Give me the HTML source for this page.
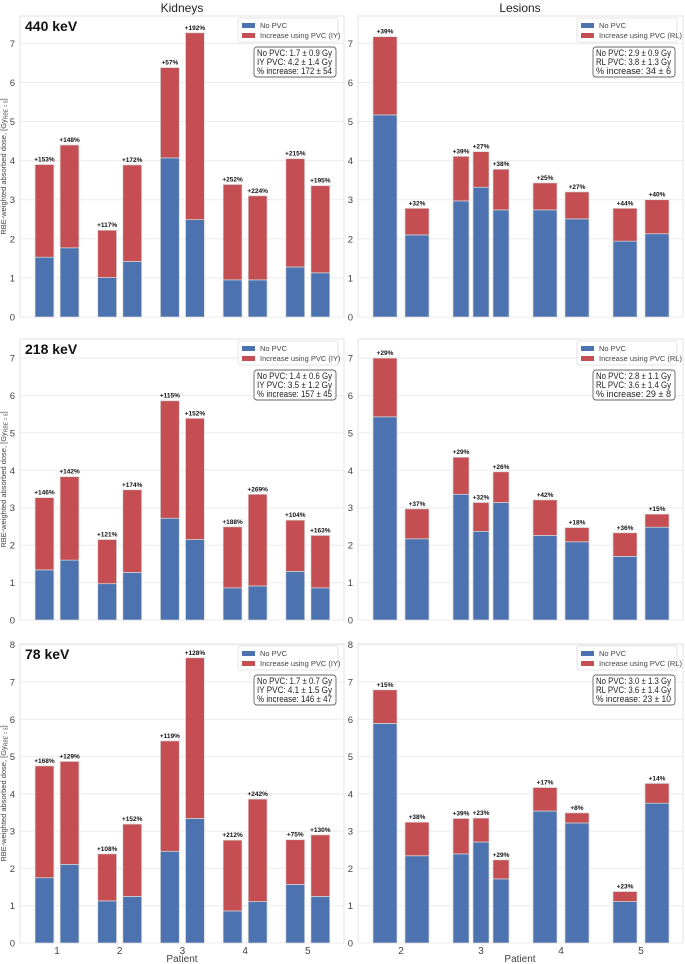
<!DOCTYPE html>
<html><head><meta charset="utf-8"><style>
html,body{margin:0;padding:0;background:#fff;}
svg{display:block;font-family:"Liberation Sans",sans-serif;}
</style></head><body>
<svg id="fig" width="685" height="964" viewBox="0 0 685 964" xmlns="http://www.w3.org/2000/svg">
<text x="182" y="12" font-size="12" text-anchor="middle" fill="#222">Kidneys</text>
<text x="520" y="12" font-size="12" text-anchor="middle" fill="#222">Lesions</text>
<text x="182" y="962" font-size="10" text-anchor="middle" fill="#444">Patient</text>
<text x="520" y="962" font-size="10" text-anchor="middle" fill="#444">Patient</text>
</svg>
<script>
// ---- data ----
const kidneyPatients=[1,1,2,2,3,3,4,4,5,5];
const lesionPatients=[2,2,3,3,3,4,4,5,5];
const kidneyTicks=[1,2,3,4,5];
const lesionTicks=[2,3,4,5];

const k440Base=[1.53,1.77,1.01,1.42,4.07,2.49,0.95,0.95,1.28,1.13];
const k440Total=[3.90,4.40,2.22,3.89,6.38,7.27,3.39,3.10,4.05,3.36];
const k440Pct=["+153%","+148%","+117%","+172%","+57%","+192%","+252%","+224%","+215%","+195%"];
const l440Base=[5.17,2.10,2.97,3.32,2.74,2.74,2.51,1.94,2.13];
const l440Total=[7.17,2.78,4.11,4.23,3.78,3.43,3.20,2.78,3.00];
const l440Pct=["+39%","+32%","+39%","+27%","+38%","+25%","+27%","+44%","+40%"];

const k218Base=[1.34,1.60,0.97,1.27,2.72,2.15,0.86,0.91,1.30,0.86];
const k218Total=[3.27,3.83,2.15,3.48,5.86,5.39,2.49,3.36,2.67,2.26];
const k218Pct=["+146%","+142%","+121%","+174%","+115%","+152%","+188%","+269%","+104%","+163%"];
const l218Base=[5.43,2.17,3.36,2.37,3.14,2.26,2.09,1.70,2.48];
const l218Total=[7.00,2.97,4.35,3.14,3.96,3.21,2.47,2.33,2.83];
const l218Pct=["+29%","+37%","+29%","+32%","+26%","+42%","+18%","+36%","+15%"];

const k78Base=[1.75,2.11,1.13,1.25,2.46,3.34,0.86,1.11,1.57,1.25];
const k78Total=[4.75,4.87,2.39,3.19,5.42,7.65,2.76,3.86,2.77,2.90];
const k78Pct=["+168%","+129%","+108%","+152%","+119%","+128%","+212%","+242%","+75%","+130%"];
const l78Base=[5.89,2.34,2.39,2.71,1.72,3.54,3.22,1.11,3.75];
const l78Total=[6.79,3.24,3.34,3.35,2.23,4.17,3.49,1.38,4.28];
const l78Pct=["+15%","+38%","+39%","+23%","+29%","+17%","+8%","+23%","+14%"];

const yTicks78=[0,1,2,3,4,5,6,7,8];
const yTicksStd=[0,1,2,3,4,5,6,7];

const svg=document.getElementById('fig');
const NS='http://www.w3.org/2000/svg';
function mk(tag,attrs,parent){const e=document.createElementNS(NS,tag);for(const k in attrs)e.setAttribute(k,attrs[k]);(parent||svg).appendChild(e);return e;}
function txt(s,attrs,parent){const e=mk('text',attrs,parent);e.textContent=s;return e;}

function panel(o){
  const g=mk('g',{});
  
  
  const sc=(o.yZero-o.yTop)/o.yMax;
  const y=v=>o.yZero-v*sc;
  const x=p=>o.xc0+(p-o.p0)*o.step;
  const fr=mk('rect',{x:o.x0,y:o.yTop,width:o.x1-o.x0,height:o.yZero-o.yTop,fill:'#fff',stroke:'#e3e3e3','stroke-width':1},g);
  
  
  o.yTicks.forEach(t=>{
    const ln=mk('line',{x1:o.x0,x2:o.x1,y1:y(t),y2:y(t),stroke:'#ebebeb','stroke-width':1},g);
    
    
    const tl=txt(String(t),{x:o.x0-5,y:y(t)+3.5,'font-size':9.5,'text-anchor':'end',fill:'#444'},g);
    
    
  });
  const counts={};o.patients.forEach(p=>counts[p]=(counts[p]||0)+1);
  const seen={};
  o.patients.forEach((p,i)=>{
    const n=counts[p];const k=(seen[p]=(seen[p]||0)+1)-1;
    const w=(n===3?0.20:0.30)*o.step, sp=(n===3?0.25:0.40)*o.step;
    const cx=x(p)+(k-(n-1)/2)*sp;
    const rb=mk('rect',{x:cx-w/2,y:y(o.base[i]),width:w,height:y(0)-y(o.base[i]),fill:'#4c72b0',stroke:'#d8d8d8','stroke-width':0.7},g);
    
    
    const rr=mk('rect',{x:cx-w/2,y:y(o.total[i]),width:w,height:y(o.base[i])-y(o.total[i]),fill:'#c44e52',stroke:'#d8d8d8','stroke-width':0.7},g);
    
    
    const pl=txt(o.pct[i],{x:cx,y:y(o.total[i])-3,'font-size':6.5,'font-weight':'bold','text-anchor':'middle',fill:'#111'},g);
    
    
  });
  if(o.xTicks){o.xTicks.forEach(p=>{
    const xl=txt(String(p),{x:x(p),y:o.yZero+11,'font-size':10,'text-anchor':'middle',fill:'#444'},g);
    
    
  });}
  if(o.energy){const el=txt(o.energy,{x:o.x0+5,y:o.yTop+15,'font-size':14,'font-weight':'bold',fill:'#111'},g);
    
    }
  if(o.ylabel){const mid=(o.yTop+o.yZero)/2;
    const yl=txt('',{x:0,y:0,'font-size':7.5,'text-anchor':'middle',fill:'#444',transform:`translate(6,${mid}) rotate(-90)`},g);
    
    
    yl.textContent='RBE-weighted absorbed dose, [Gy';
    const sub=mk('tspan',{'font-size':5,'font-style':'italic',dy:1.5},yl);sub.textContent='RBE = 5';
    const cl=mk('tspan',{dy:-1.5},yl);cl.textContent=']';}
  const lx=o.x1-106, ly=o.yTop+2;
  const lg=mk('g',{},g);
  
  
  mk('rect',{x:lx,y:ly,width:100,height:24,rx:2,fill:'#fff','fill-opacity':0.85,stroke:'#ddd','stroke-width':0.8},lg);
  mk('rect',{x:lx+4,y:ly+5,width:13,height:5,fill:'#4c72b0'},lg);
  mk('rect',{x:lx+4,y:ly+15,width:13,height:5,fill:'#c44e52'},lg);
  const l1=txt('No PVC',{x:lx+22,y:ly+10,'font-size':7.5,fill:'#444'},lg);
  
  
  const l2=txt('Increase using PVC ('+o.method+')',{x:lx+22,y:ly+20,'font-size':7.5,fill:'#444'},lg);
  
  
  const sx=o.x1-90, sy=o.yTop+31;
  const sg=mk('g',{},g);
  
  
  mk('rect',{x:sx,y:sy,width:82,height:30,rx:3,fill:'#fff',stroke:'#666','stroke-width':0.9},sg);
  o.stats.forEach((s,i)=>txt(s,{x:sx+3,y:sy+9+i*9,'font-size':8.8,fill:'#222',textLength:75,lengthAdjust:'spacingAndGlyphs'},sg));
}

const K={x0:20,x1:344,xc0:57,p0:1,step:62.7,patients:kidneyPatients,method:'IY',ylabel:true};
const L={x0:358,x1:683,xc0:401,p0:2,step:80,patients:lesionPatients,method:'RL'};

panel(Object.assign({},K,{name:'kidneys-440kev-panel',yTop:16,yZero:317,yMax:7.7,yTicks:yTicksStd,base:k440Base,total:k440Total,pct:k440Pct,energy:'440 keV',
  stats:['No PVC: 1.7 ± 0.9 Gy','IY PVC: 4.2 ± 1.4 Gy','% increase: 172 ± 54']}));
panel(Object.assign({},L,{name:'lesions-440kev-panel',yTop:16,yZero:317,yMax:7.7,yTicks:yTicksStd,base:l440Base,total:l440Total,pct:l440Pct,
  stats:['No PVC: 2.9 ± 0.9 Gy','RL PVC: 3.8 ± 1.3 Gy','% increase: 34 ± 6']}));
panel(Object.assign({},K,{name:'kidneys-218kev-panel',yTop:339,yZero:620,yMax:7.51,yTicks:yTicksStd,base:k218Base,total:k218Total,pct:k218Pct,energy:'218 keV',
  stats:['No PVC: 1.4 ± 0.6 Gy','IY PVC: 3.5 ± 1.2 Gy','% increase: 157 ± 45']}));
panel(Object.assign({},L,{name:'lesions-218kev-panel',yTop:339,yZero:620,yMax:7.51,yTicks:yTicksStd,base:l218Base,total:l218Total,pct:l218Pct,
  stats:['No PVC: 2.8 ± 1.1 Gy','RL PVC: 3.6 ± 1.4 Gy','% increase: 29 ± 8']}));
panel(Object.assign({},K,{name:'kidneys-78kev-panel',yTop:644,yZero:943,yMax:8.02,yTicks:yTicks78,base:k78Base,total:k78Total,pct:k78Pct,energy:'78 keV',xTicks:kidneyTicks,
  stats:['No PVC: 1.7 ± 0.7 Gy','IY PVC: 4.1 ± 1.5 Gy','% increase: 146 ± 47']}));
panel(Object.assign({},L,{name:'lesions-78kev-panel',yTop:644,yZero:943,yMax:8.02,yTicks:yTicks78,base:l78Base,total:l78Total,pct:l78Pct,xTicks:lesionTicks,
  stats:['No PVC: 3.0 ± 1.3 Gy','RL PVC: 3.6 ± 1.4 Gy','% increase: 23 ± 10']}));
</script>
</body></html>
